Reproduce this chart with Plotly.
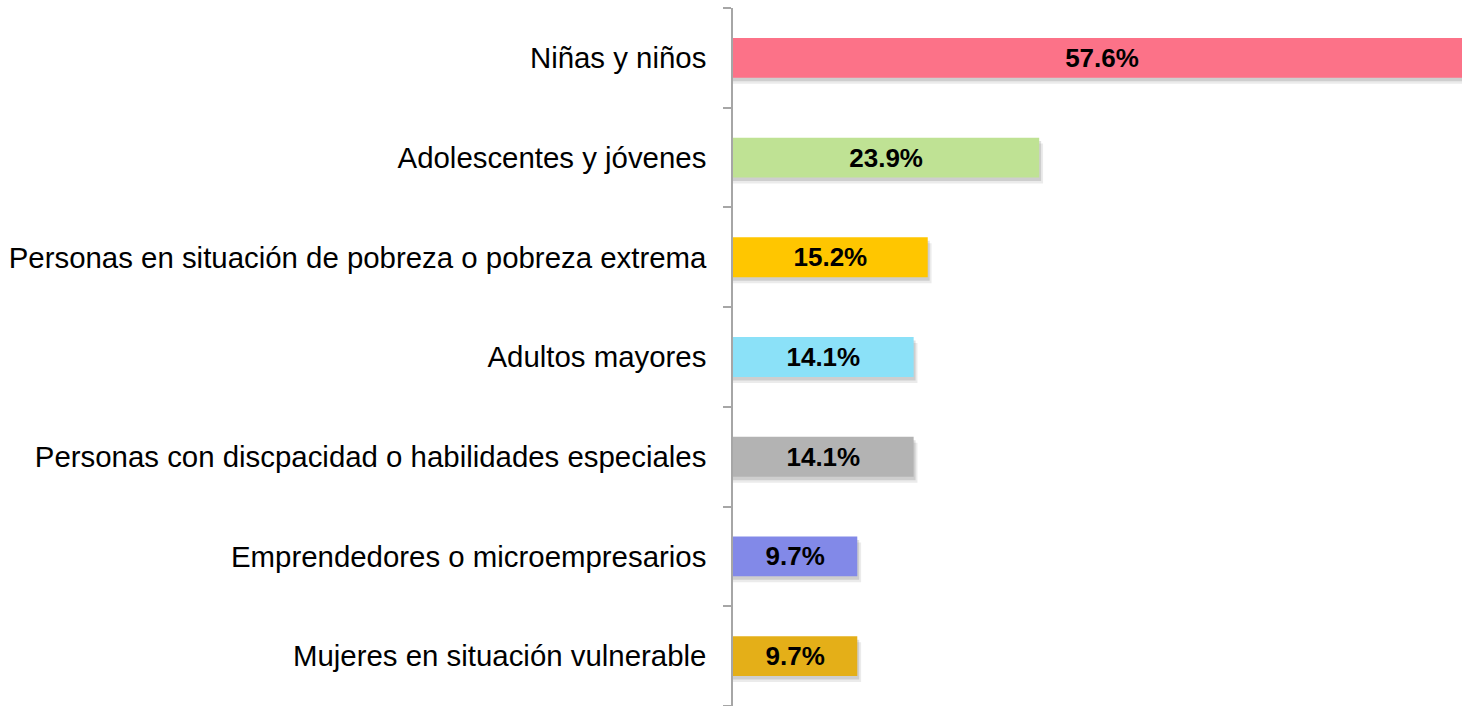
import plotly.graph_objects as go

categories = [
    "Niñas y niños",
    "Adolescentes y jóvenes",
    "Personas en situación de pobreza o pobreza extrema",
    "Adultos mayores",
    "Personas con discpacidad o habilidades especiales",
    "Emprendedores o microempresarios",
    "Mujeres en situación vulnerable",
]
values = [57.6, 23.9, 15.2, 14.1, 14.1, 9.7, 9.7]
labels = ["57.6%", "23.9%", "15.2%", "14.1%", "14.1%", "9.7%", "9.7%"]
colors = ["#FC7288", "#BFE294", "#FFC600", "#8BE1F8", "#B3B3B3", "#8289E8", "#E4AF18"]

# bottom-to-top order for the plot
cats_r = categories[::-1]
vals_r = values[::-1]
labs_r = labels[::-1]
cols_r = colors[::-1]

font_family = "Liberation Sans, Arial, sans-serif"

fig = go.Figure()

# soft drop shadows
for dx, dy, alpha in [(0.3, 0.06, 0.08), (0.15, 0.035, 0.12)]:
    fig.add_trace(go.Bar(
        y=cats_r, x=[v + dx for v in vals_r], orientation="h",
        width=0.4, offset=-0.2 - dy,
        marker=dict(color=f"rgba(0,0,0,{alpha})", line=dict(width=0)),
        hoverinfo="skip", showlegend=False,
    ))

fig.add_trace(go.Bar(
    y=cats_r, x=vals_r, orientation="h",
    width=0.4, offset=-0.2,
    marker=dict(color=cols_r, line=dict(width=0)),
    text=labs_r, textposition="inside", insidetextanchor="middle",
    textfont=dict(family=font_family, size=26, color="black", weight="bold"),
    textangle=0, showlegend=False,
))

fig.update_layout(
    width=1462, height=706,
    margin=dict(l=733, r=0, t=8, b=0),
    paper_bgcolor="white", plot_bgcolor="white",
    barmode="overlay",
    xaxis=dict(range=[0, 56.9], visible=False, fixedrange=True),
    yaxis=dict(
        type="category", categoryorder="array", categoryarray=cats_r,
        range=[-0.5, 6.5],
        showline=True, linecolor="#A6A6A6", linewidth=1.5,
        ticks="outside", tickson="boundaries", ticklen=8, tickcolor="#A6A6A6", tickwidth=1.5,
        showgrid=False, zeroline=False,
        tickfont=dict(family=font_family, size=29.4, color="black"),
        ticklabelstandoff=19,
    ),
)

fig.write_html(
    "out.html",
    config={"displayModeBar": False},
    post_script="document.body.style.margin='0';document.body.style.overflow='hidden';",
)
